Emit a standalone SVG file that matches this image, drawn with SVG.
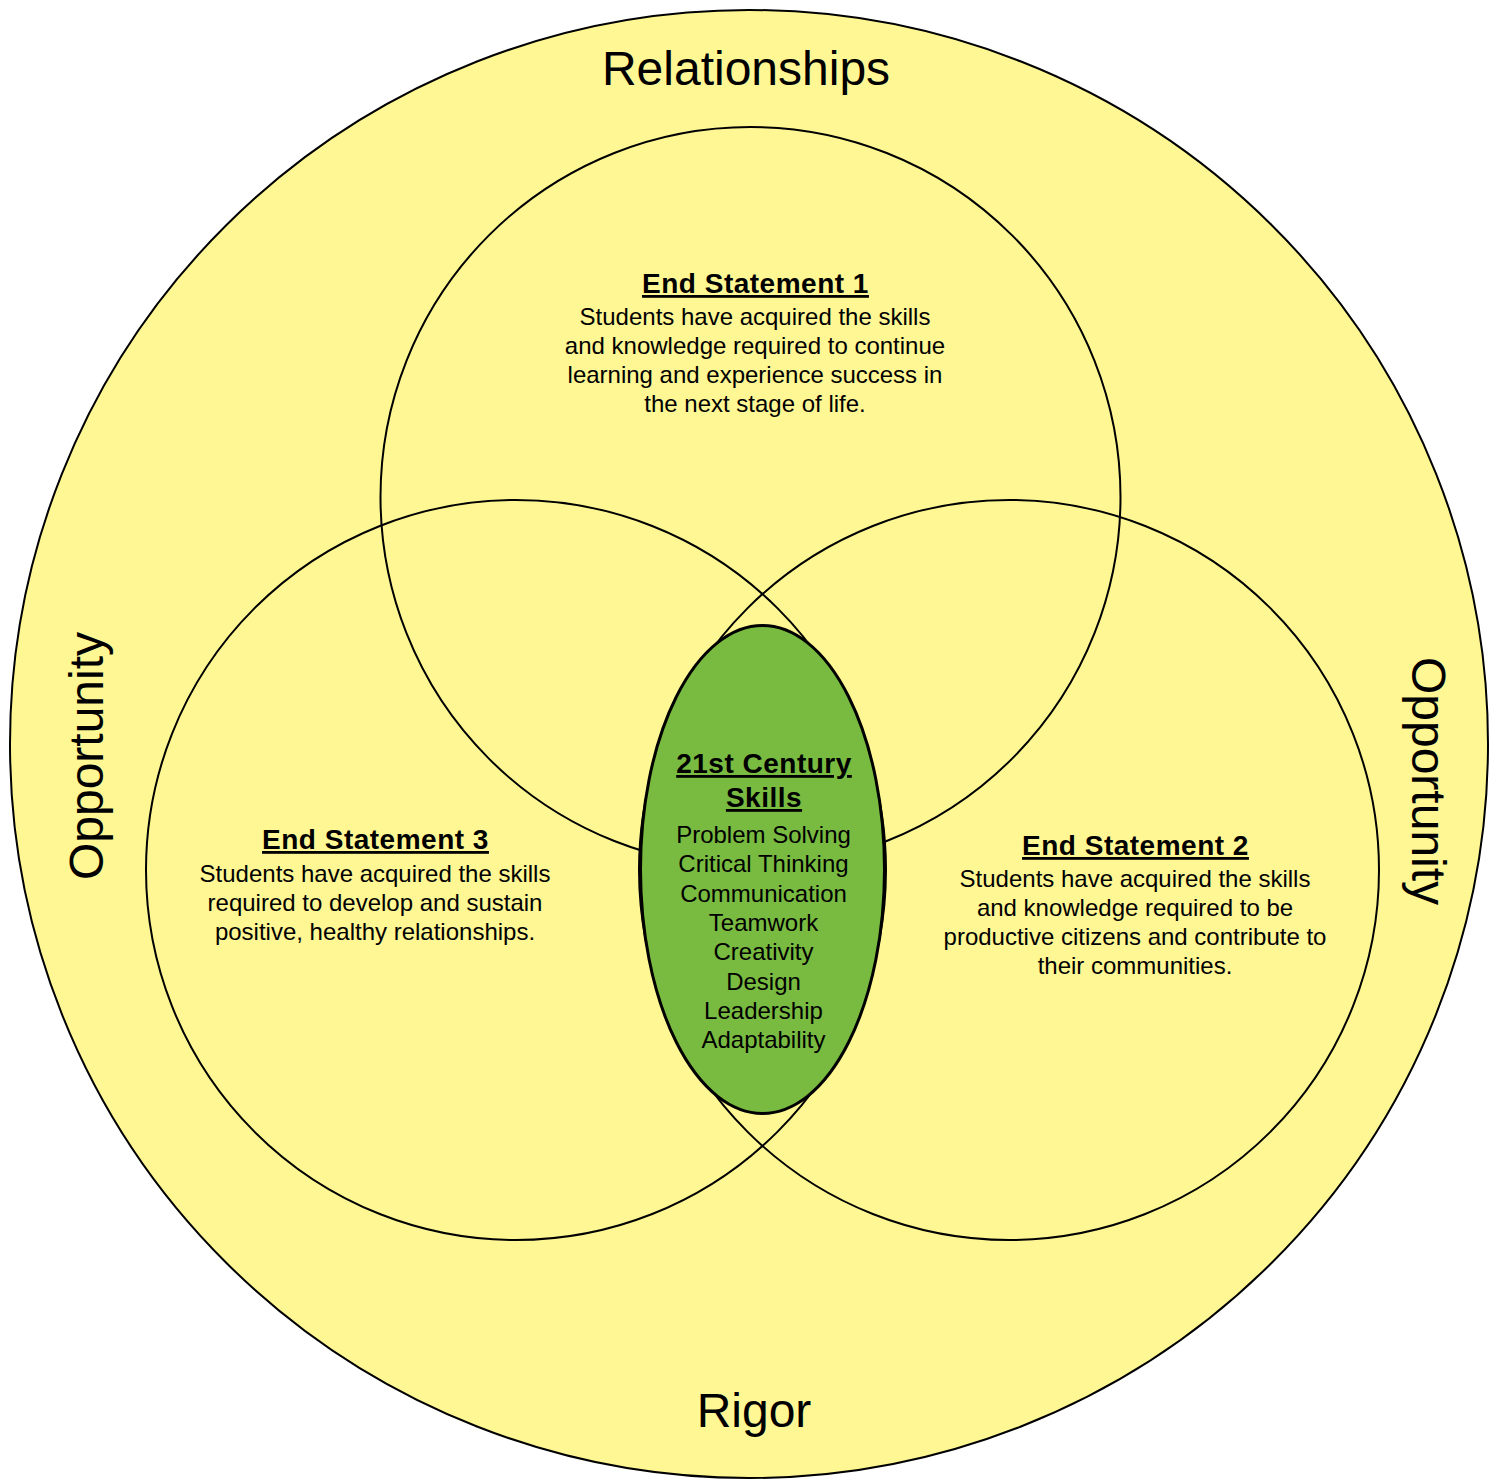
<svg xmlns="http://www.w3.org/2000/svg" width="1498" height="1482" viewBox="0 0 1498 1482">
<style>
.ring{fill:none;stroke:#000;stroke-width:2}
.t{font-family:"Liberation Sans",Arial,Helvetica,sans-serif;fill:#000;text-anchor:middle}
.big{font-size:48px}
.h{font-size:28px;font-weight:bold;text-decoration:underline;letter-spacing:0.5px}
.b{font-size:24px}
</style>
<rect width="1498" height="1482" fill="#fff"/>
<g id="outer">
<ellipse cx="749" cy="744" rx="739" ry="734" fill="#fef794" stroke="#000" stroke-width="2"/>
<text class="t big" x="746" y="85">Relationships</text>
<text class="t big" x="754" y="1427">Rigor</text>
<text class="t big" transform="translate(103,756) rotate(-90)" x="0" y="0">Opportunity</text>
<text class="t big" transform="translate(1412,781) rotate(90)" x="0" y="0">Opportunity</text>
</g>
<g id="es1">
<circle class="ring" cx="750.5" cy="497" r="370"/>
<text class="t h" x="755.5" y="293">End Statement 1</text>
<text class="t b" x="755" y="325">Students have acquired the skills</text>
<text class="t b" x="755" y="354">and knowledge required to continue</text>
<text class="t b" x="755" y="383">learning and experience success in</text>
<text class="t b" x="755" y="412">the next stage of life.</text>
</g>
<g id="es3">
<circle class="ring" cx="516" cy="870" r="370"/>
<text class="t h" x="375.5" y="849">End Statement 3</text>
<text class="t b" x="375" y="882">Students have acquired the skills</text>
<text class="t b" x="375" y="911">required to develop and sustain</text>
<text class="t b" x="375" y="940">positive, healthy relationships.</text>
</g>
<g id="es2">
<circle class="ring" cx="1009" cy="870" r="370"/>
<text class="t h" x="1135.5" y="855">End Statement 2</text>
<text class="t b" x="1135" y="887">Students have acquired the skills</text>
<text class="t b" x="1135" y="916">and knowledge required to be</text>
<text class="t b" x="1135" y="945">productive citizens and contribute to</text>
<text class="t b" x="1135" y="974">their communities.</text>
</g>
<g id="skills">
<ellipse cx="762.5" cy="869.5" rx="122" ry="244" fill="#78bb40" stroke="#000" stroke-width="3"/>
<text class="t h" x="764" y="773">21st Century</text>
<text class="t h" x="764" y="807">Skills</text>
<text class="t b" x="763.5" y="843">Problem Solving</text>
<text class="t b" x="763.5" y="872">Critical Thinking</text>
<text class="t b" x="763.5" y="902">Communication</text>
<text class="t b" x="763.5" y="931">Teamwork</text>
<text class="t b" x="763.5" y="960">Creativity</text>
<text class="t b" x="763.5" y="990">Design</text>
<text class="t b" x="763.5" y="1019">Leadership</text>
<text class="t b" x="763.5" y="1048">Adaptability</text>
</g>
<g id="connectors"/>
</svg>
